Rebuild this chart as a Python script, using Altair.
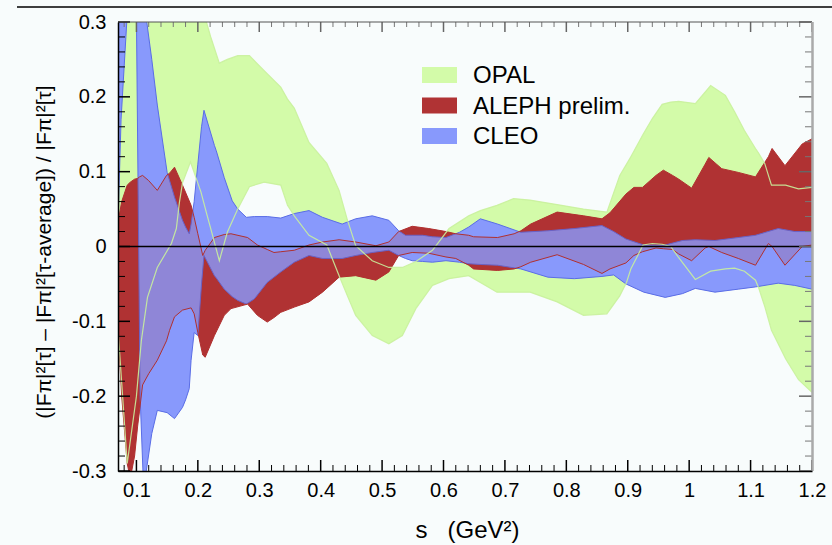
import altair as alt
import pandas as pd

# ---------------- data ----------------
opal_x = [0.070, 0.085, 0.100, 0.108, 0.118, 0.134, 0.157, 0.165, 0.170, 0.175,
          0.188, 0.205, 0.214, 0.221, 0.235, 0.248, 0.265, 0.284, 0.308, 0.335,
          0.346, 0.357, 0.381, 0.410, 0.430, 0.443, 0.457, 0.484, 0.511, 0.533,
          0.555, 0.582, 0.609, 0.641, 0.660, 0.687, 0.714, 0.741, 0.785, 0.828,
          0.866, 0.887, 0.898, 0.905, 0.925, 0.940, 0.956, 0.970, 0.983, 1.010,
          1.035, 1.059, 1.074, 1.090, 1.108, 1.113, 1.123, 1.134, 1.157, 1.178, 1.200]
opal_lo = [-0.11, -0.29, -0.20, -0.126, -0.068, -0.028, 0.004, 0.024, 0.059, 0.085,
           0.113, 0.073, 0.045, 0.024, -0.019, 0.019, 0.050, 0.080, 0.086, 0.082,
           0.055, 0.041, 0.015, 0.002, -0.039, -0.065, -0.092, -0.119, -0.130, -0.119,
           -0.083, -0.052, -0.043, -0.039, -0.048, -0.061, -0.061, -0.061, -0.074, -0.092,
           -0.090, -0.066, -0.048, -0.030, 0.002, 0.004, 0.003, 0.000, -0.015, -0.044,
           -0.033, -0.030, -0.029, -0.033, -0.045, -0.055, -0.080, -0.112, -0.150, -0.178, -0.195]
opal_hi = [0.45, 0.45, 0.45, 0.45, 0.45, 0.45, 0.45, 0.45, 0.45, 0.45,
           0.42, 0.34, 0.30, 0.28, 0.245, 0.250, 0.255, 0.255, 0.235, 0.213,
           0.197, 0.185, 0.139, 0.111, 0.075, 0.037, 0.001, -0.019, -0.028, -0.028,
           -0.020, -0.005, 0.024, 0.041, 0.048, 0.055, 0.064, 0.062, 0.056, 0.050,
           0.046, 0.095, 0.110, 0.120, 0.150, 0.171, 0.190, 0.193, 0.194, 0.191,
           0.215, 0.202, 0.180, 0.155, 0.131, 0.125, 0.111, 0.082, 0.082, 0.077, 0.079]

aleph_x = [0.070, 0.076, 0.085, 0.090, 0.097, 0.102, 0.105, 0.110, 0.120, 0.134,
           0.149, 0.154, 0.162, 0.175, 0.189, 0.194, 0.200, 0.208, 0.212, 0.227,
           0.243, 0.254, 0.281, 0.297, 0.313, 0.324, 0.335, 0.357, 0.381, 0.403,
           0.430, 0.457, 0.490, 0.511, 0.527, 0.549, 0.576, 0.604, 0.620, 0.641,
           0.649, 0.688, 0.715, 0.726, 0.742, 0.785, 0.828, 0.858, 0.871, 0.897,
           0.910, 0.924, 0.946, 0.958, 0.973, 0.983, 1.004, 1.026, 1.032, 1.053,
           1.080, 1.108, 1.129, 1.135, 1.156, 1.184, 1.200]
aleph_lo = [-0.11, -0.20, -0.29, -0.31, -0.28, -0.24, -0.22, -0.185, -0.17, -0.152,
            -0.126, -0.112, -0.094, -0.085, -0.082, -0.090, -0.115, -0.145, -0.148, -0.119,
            -0.092, -0.083, -0.077, -0.092, -0.101, -0.095, -0.088, -0.081, -0.074, -0.061,
            -0.041, -0.039, -0.045, -0.034, -0.012, -0.008, -0.009, -0.014, -0.016, -0.025,
            -0.030, -0.032, -0.030, -0.027, -0.021, -0.011, -0.024, -0.036, -0.030, -0.022,
            -0.012, -0.007, -0.002, -0.003, -0.004, -0.010, -0.019, -0.002, 0.000, -0.008,
            -0.016, -0.025, 0.004, 0.000, -0.025, 0.000, 0.002]
aleph_hi = [0.032, 0.060, 0.082, 0.086, 0.090, 0.091, 0.093, 0.095, 0.088, 0.075,
            0.095, 0.098, 0.106, 0.082, 0.055, 0.039, 0.017, -0.012, -0.005, 0.012,
            0.016, 0.017, 0.012, 0.002, -0.004, -0.008, -0.007, -0.005, 0.002, 0.006,
            0.009, 0.006, 0.001, 0.006, 0.020, 0.027, 0.024, 0.020, 0.017, 0.015,
            0.013, 0.012, 0.017, 0.021, 0.030, 0.046, 0.041, 0.037, 0.045, 0.070,
            0.079, 0.079, 0.095, 0.102, 0.095, 0.090, 0.078, 0.110, 0.119, 0.104,
            0.099, 0.093, 0.120, 0.131, 0.108, 0.137, 0.144]

cleo_x = [0.070, 0.075, 0.085, 0.0995, 0.106, 0.112, 0.116, 0.125, 0.134, 0.150,
          0.162, 0.175, 0.180, 0.186, 0.189, 0.194, 0.200, 0.206, 0.210, 0.227,
          0.230, 0.243, 0.256, 0.265, 0.279, 0.292, 0.313, 0.335, 0.357, 0.381,
          0.403, 0.435, 0.457, 0.484, 0.511, 0.527, 0.538, 0.549, 0.566, 0.582,
          0.604, 0.626, 0.641, 0.660, 0.688, 0.726, 0.770, 0.813, 0.858, 0.877,
          0.897, 0.926, 0.961, 0.989, 1.010, 1.042, 1.080, 1.108, 1.145, 1.172, 1.200]
cleo_lo = [0.03, 0.17, 0.31, 0.35, -0.20, -0.33, -0.30, -0.25, -0.219, -0.222,
           -0.230, -0.215, -0.205, -0.190, -0.152, -0.115, -0.119, -0.050, -0.012, -0.039,
           -0.042, -0.057, -0.067, -0.072, -0.077, -0.070, -0.048, -0.034, -0.021, -0.012,
           -0.016, -0.016, -0.012, -0.008, -0.005, -0.012, -0.016, -0.019, -0.020, -0.021,
           -0.019, -0.021, -0.023, -0.024, -0.025, -0.030, -0.041, -0.043, -0.040, -0.038,
           -0.050, -0.061, -0.068, -0.063, -0.056, -0.061, -0.057, -0.054, -0.049, -0.052, -0.057]
cleo_hi = [0.45, 0.45, 0.45, 0.50, 0.50, 0.36, 0.305, 0.25, 0.189, 0.099,
           0.066, 0.035, 0.026, 0.017, 0.030, 0.060, 0.110, 0.160, 0.182, 0.135,
           0.128, 0.092, 0.061, 0.050, 0.039, 0.040, 0.040, 0.038, 0.044, 0.048,
           0.039, 0.030, 0.037, 0.041, 0.035, 0.021, 0.015, 0.015, 0.015, 0.013,
           0.012, 0.019, 0.026, 0.037, 0.030, 0.019, 0.021, 0.024, 0.028, 0.020,
           0.010, 0.002, 0.002, 0.008, 0.009, 0.008, 0.012, 0.015, 0.024, 0.020, 0.020]

x_major = [0.1, 0.2, 0.3, 0.4, 0.5, 0.6, 0.7, 0.8, 0.9, 1.0, 1.1, 1.2]
y_major = [-0.3, -0.2, -0.1, 0.0, 0.1, 0.2, 0.3]
x_minor = [round(0.08 + 0.02 * i, 2) for i in range(57) if round((0.08 + 0.02 * i) * 10, 6) % 1 != 0]
y_minor = [round(-0.28 + 0.02 * i, 2) for i in range(29) if round((-0.28 + 0.02 * i) * 10, 6) % 1 != 0]

legend_names = ["OPAL", "ALEPH prelim.", "CLEO"]

# ---------------- styles ----------------
GREEN = "#d3fba9"
RED = "#b03334"
BLUE = "#8899fc"
BLUE_EDGE = "#5a6de6"
RED_LINE = "#b0302f"
GREEN_LINE = "#c9f19c"
BG = "#f8fcfc"
FONT = "Liberation Sans"
W, H = 694, 449
legend_colors = [GREEN, RED, BLUE]
NB = "\u00a0"

opal = pd.DataFrame({"x": opal_x, "lo": opal_lo, "hi": opal_hi})
aleph = pd.DataFrame({"x": aleph_x, "lo": aleph_lo, "hi": aleph_hi})
cleo = pd.DataFrame({"x": cleo_x, "lo": cleo_lo, "hi": cleo_hi})

xs = alt.Scale(domain=[0.07, 1.2], nice=False, zero=False)
ys = alt.Scale(domain=[-0.3, 0.3], nice=False, zero=False)

xaxis = alt.Axis(values=x_major, labelExpr="format(datum.value, '~g')", ticks=False, grid=False,
                 domainColor="black", domainWidth=1.5, labelFont=FONT, labelFontSize=20,
                 labelColor="black", labelPadding=9, labelFlush=False, labelOverlap=False,
                 title=f"s{NB}{NB}{NB}(GeV²)", titleFont=FONT, titleFontSize=24, titleFontWeight="normal",
                 titleColor="black", titleX=W / 2 + 2, titleY=66, titleBaseline="alphabetic",
                 titleAlign="center", zindex=1)
yaxis = alt.Axis(values=y_major,
                 labelExpr="abs(datum.value) < 1e-9 ? '0' : (datum.value < 0 ? '-' + format(-datum.value, '.1f') : format(datum.value, '.1f'))",
                 ticks=False, grid=False, domainColor="black", domainWidth=1.5,
                 labelFont=FONT, labelFontSize=20, labelColor="black", labelPadding=12,
                 labelFlush=False, labelOverlap=False,
                 title=f"(|Fπ|²[τ]{NB}–{NB}|Fπ|²[τ-average]){NB}/{NB}|Fπ|²[τ]", titleFont=FONT,
                 titleFontSize=21, titleFontWeight="normal", titleColor="black",
                 titleX=-68, titleY=H / 2 + 5, titleAngle=270, titleBaseline="alphabetic",
                 titleAlign="center", zindex=1)


def X(field="x"):
    return alt.X(f"{field}:Q", scale=xs, axis=xaxis)


def Y(field):
    return alt.Y(f"{field}:Q", scale=ys, axis=yaxis)


layers = []
# bands
layers.append(alt.Chart(opal).mark_area(color=GREEN, clip=True).encode(x=X(), y=Y("hi"), y2="lo:Q"))
layers.append(alt.Chart(aleph).mark_area(color=RED, clip=True).encode(x=X(), y=Y("hi"), y2="lo:Q"))
layers.append(alt.Chart(cleo).mark_area(color=BLUE, stroke=BLUE_EDGE, strokeWidth=1, clip=True)
              .encode(x=X(), y=Y("hi"), y2="lo:Q"))
# ALEPH overlay (hatched in original) + outline
layers.append(alt.Chart(aleph).mark_area(color=RED, opacity=0.18, clip=True).encode(x=X(), y=Y("hi"), y2="lo:Q"))
for f in ["hi", "lo"]:
    layers.append(alt.Chart(aleph).mark_line(color=RED_LINE, strokeWidth=1, clip=True).encode(x=X(), y=Y(f)))
# OPAL outline
for f in ["hi", "lo"]:
    layers.append(alt.Chart(opal).mark_line(color=GREEN_LINE, strokeWidth=1.2, opacity=0.9, clip=True)
                  .encode(x=X(), y=Y(f)))
# zero line
layers.append(alt.Chart(pd.DataFrame({"v": [0.0]})).mark_rule(color="black", strokeWidth=1.5)
              .encode(y=Y("v")))

# ticks (inward on all four sides)
xmaj = pd.DataFrame({"v": x_major})
xmin = pd.DataFrame({"v": x_minor})
ymaj = pd.DataFrame({"v": y_major})
ymin = pd.DataFrame({"v": y_minor})
layers += [
    alt.Chart(xmaj).mark_rule(color="black", strokeWidth=1.5).encode(x=X("v"), y=alt.value(H), y2=alt.value(H - 11)),
    alt.Chart(xmin).mark_rule(color="black", strokeWidth=1).encode(x=X("v"), y=alt.value(H), y2=alt.value(H - 6)),
    alt.Chart(xmaj).mark_rule(color="#666", strokeWidth=1.5).encode(x=X("v"), y=alt.value(0), y2=alt.value(10)),
    alt.Chart(xmin).mark_rule(color="#777", strokeWidth=1).encode(x=X("v"), y=alt.value(0), y2=alt.value(5)),
    alt.Chart(ymaj).mark_rule(color="black", strokeWidth=1.5).encode(y=Y("v"), x=alt.value(0), x2=alt.value(12)),
    alt.Chart(ymin).mark_rule(color="black", strokeWidth=1).encode(y=Y("v"), x=alt.value(0), x2=alt.value(7)),
    alt.Chart(ymaj).mark_rule(color="#666", strokeWidth=1.5).encode(y=Y("v"), x=alt.value(W), x2=alt.value(W - 13)),
    alt.Chart(ymin).mark_rule(color="#777", strokeWidth=1).encode(y=Y("v"), x=alt.value(W), x2=alt.value(W - 7)),
]

# frame: top (dark grey), right (light grey), page line above
layers.append(alt.Chart(pd.DataFrame({"v": [0]})).mark_rule(color="#555", strokeWidth=1.2)
              .encode(x=alt.value(0), x2=alt.value(W), y=alt.value(0)))
layers.append(alt.Chart(pd.DataFrame({"v": [0]})).mark_rule(color="#aaa", strokeWidth=2.5)
              .encode(x=alt.value(W + 0.5), y=alt.value(0), y2=alt.value(H)))
layers.append(alt.Chart(pd.DataFrame({"v": [0]})).mark_rule(color="black", strokeWidth=1.5)
              .encode(x=alt.value(-101), x2=alt.value(714), y=alt.value(-15)))

# legend
for i, (name, col) in enumerate(zip(legend_names, legend_colors)):
    top = 45 + 30.5 * i
    d = pd.DataFrame({"n": [name]})
    layers.append(alt.Chart(d).mark_rect(color=col).encode(
        x=alt.value(304), x2=alt.value(339), y=alt.value(top), y2=alt.value(top + 16)))
    layers.append(alt.Chart(d).mark_text(align="left", baseline="alphabetic", font=FONT,
                                         fontSize=24, color="black").encode(
        x=alt.value(355), y=alt.value(top + 16), text="n:N"))

chart = alt.layer(*layers).properties(
    width=W, height=H,
    padding={"left": 118, "top": 22, "right": 20, "bottom": 74},
    autosize=alt.AutoSizeParams(type="none"),
).configure(background=BG).configure_view(stroke=None)

chart.save("out.html", embed_options={"renderer": "svg", "actions": False})
